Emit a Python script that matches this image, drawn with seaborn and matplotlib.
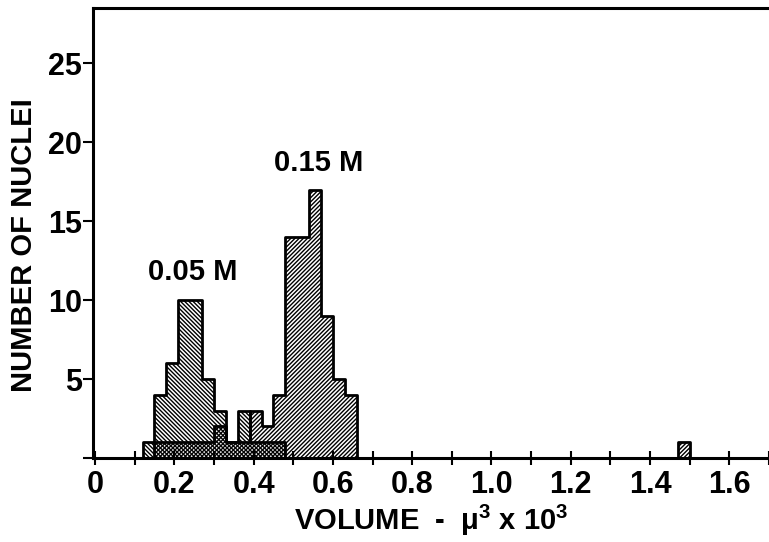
import seaborn as sns
import matplotlib.pyplot as plt
import pandas as pd
import numpy as np
from matplotlib import rcParams
from matplotlib.ticker import MultipleLocator

# histogram bins (left edges of the 0.03 wide bins that are not empty)
bin_width = 0.03
low_bins = [0.12, 0.15, 0.18, 0.21, 0.24, 0.27, 0.30, 0.33, 0.36, 0.39, 0.42, 0.45]
low_counts = [1, 4, 6, 10, 10, 5, 3, 1, 3, 1, 1, 1]          # 0.05 M
high_bins = [0.15, 0.18, 0.21, 0.24, 0.27, 0.30, 0.33, 0.36, 0.39, 0.42, 0.45,
             0.48, 0.51, 0.54, 0.57, 0.60, 0.63, 1.47]
high_counts = [1, 1, 1, 1, 1, 2, 1, 1, 3, 2, 4, 14, 14, 17, 9, 5, 4, 1]  # 0.15 M

x_ticks = [0, 0.2, 0.4, 0.6, 0.8, 1.0, 1.2, 1.4, 1.6]
x_tick_labels = ["0", "0.2", "0.4", "0.6", "0.8", "1.0", "1.2", "1.4", "1.6"]
y_ticks = [0, 5, 10, 15, 20, 25]
y_tick_labels = ["", "5", "10", "15", "20", "25"]

sns.set_style("ticks")
rcParams["font.family"] = ["Liberation Sans", "DejaVu Sans"]
rcParams["font.weight"] = "bold"
rcParams["mathtext.default"] = "regular"
rcParams["hatch.color"] = "black"
rcParams["hatch.linewidth"] = 1.0
rcParams["text.color"] = "black"
rcParams["axes.labelcolor"] = "black"
rcParams["xtick.color"] = "black"
rcParams["ytick.color"] = "black"
rcParams["axes.edgecolor"] = "black"

df_low = pd.DataFrame({"volume": np.array(low_bins) + bin_width / 2, "n": low_counts})
df_high = pd.DataFrame({"volume": np.array(high_bins) + bin_width / 2, "n": high_counts})

fig = plt.figure(figsize=(7.69, 5.42), dpi=100)
ax = fig.add_axes([0.121, 0.155, 0.879, 0.830])

for df, hatch in [(df_high, "////////"), (df_low, "\\\\\\\\\\\\\\\\")]:
        n_before = len(ax.collections)
        sns.histplot(data=df, x="volume", weights="n", binwidth=bin_width,
                     binrange=(0.12, 1.50), element="step", fill=True,
                     color="black", linewidth=2, ax=ax)
        for coll in ax.collections[n_before:]:
                coll.set_facecolor("none")
                coll.set_edgecolor("black")
                coll.set_hatch(hatch)
                coll.set_linewidth(2)

ax.set_xlim(-0.005, 1.70)
ax.set_ylim(0, 28.5)
ax.set_xticks(x_ticks)
ax.set_xticklabels(x_tick_labels)
ax.xaxis.set_minor_locator(MultipleLocator(0.1))
ax.set_yticks(y_ticks)
ax.set_yticklabels(y_tick_labels)
ax.tick_params(axis="x", which="both", direction="inout", length=10, width=1.5,
               labelsize=22, pad=4)
ax.tick_params(axis="y", direction="out", length=7, width=1.5, labelsize=22, pad=1)

for side in ["left", "bottom", "top"]:
        ax.spines[side].set_linewidth(2.2)
ax.spines["right"].set_visible(False)

ax.text(0.247, 11.8, "0.05 M", ha="center", va="center", fontsize=21, fontweight="bold")
ax.text(0.563, 18.7, "0.15 M", ha="center", va="center", fontsize=21, fontweight="bold")

ax.set_xlabel("VOLUME  -  μ$^3$ x 10$^3$", fontsize=21, fontweight="bold", labelpad=2)
ax.set_ylabel("NUMBER OF NUCLEI", fontsize=21, fontweight="bold")
ax.yaxis.set_label_coords(-0.081, 0.473)

plt.savefig("out.png", dpi=100)
